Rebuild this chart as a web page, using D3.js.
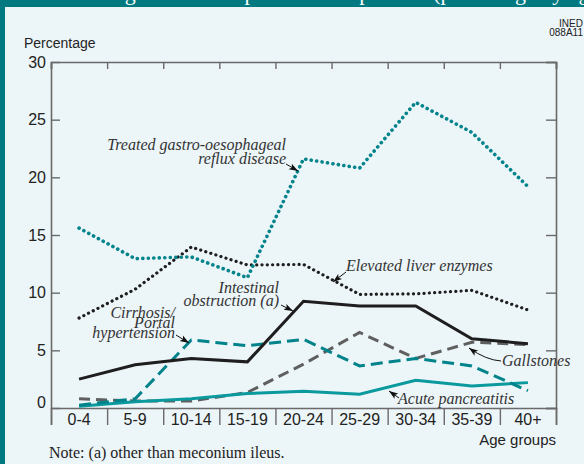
<!DOCTYPE html>
<html>
<head>
<meta charset="utf-8">
<script src="https://cdn.jsdelivr.net/npm/d3@7"></script>
<style>
html,body{margin:0;padding:0;background:#ecf5f8;}
svg{display:block;}
</style>
</head>
<body>
<script>
const categories = ["0-4","5-9","10-14","15-19","20-24","25-29","30-34","35-39","40+"];
const yTicks = [0,5,10,15,20,25,30];
const gord = [15.6,12.95,13.1,11.3,21.6,20.8,26.5,23.9,19.2];
const liver = [7.8,10.3,13.95,12.4,12.45,9.85,9.9,10.2,8.5];
const intestinal = [2.5,3.75,4.3,4.0,9.25,8.85,8.85,6.0,5.58];
const cirrhosis = [0.25,0.8,5.9,5.4,5.95,3.65,4.3,3.65,1.5];
const gallstones = [0.8,0.6,0.6,1.35,3.8,6.55,4.3,5.7,5.5];
const pancreatitis = [0.15,0.55,0.8,1.25,1.45,1.2,2.4,1.9,2.2];

(function(){
const W = 584, H = 464;
const teal = "#00838b", frame = "#007a80", axisCol = "#6a6a6a";
const svg = d3.select("body").append("svg").attr("width", W).attr("height", H);

svg.append("rect").attr("width", W).attr("height", H).attr("fill", "#ecf5f8");
svg.append("rect").attr("x",0).attr("y",0).attr("width",W).attr("height",7).attr("fill",frame);
svg.append("rect").attr("x",0).attr("y",0).attr("width",5).attr("height",H).attr("fill",frame);
svg.append("text").attr("x",385).attr("y",0).attr("text-anchor","middle")
  .attr("font-family","Liberation Serif").attr("font-size",22).attr("fill","#fff")
  .text("Figure 11. Complications of patients (percentage by age group)");

const pl = 51, pr = 556, pt = 62, pb = 408;
const x = d3.scaleBand().domain(categories).range([pl, pr]).padding(0);
const xEdge = d3.scaleLinear().domain([0, categories.length]).range([pl, pr]);
const y = d3.scaleLinear().domain([0, 30]).range([pb, pt]);

const gL = svg.append("g").attr("transform",`translate(${pl},0)`)
  .call(d3.axisLeft(y).tickValues(yTicks).tickSizeInner(-9).tickSizeOuter(0).tickPadding(5));
gL.selectAll("text").attr("font-family","Liberation Sans").attr("font-size",16).attr("fill","#222")
  .attr("dy", d => d === 0 ? "-0.05em" : "0.32em");
const gR = svg.append("g").attr("transform",`translate(${pr},0)`)
  .call(d3.axisRight(y).tickValues(yTicks).tickSize(-10).tickFormat(""));
const gT = svg.append("g").attr("transform",`translate(0,${pt})`)
  .call(d3.axisTop(xEdge).tickValues(d3.range(categories.length+1)).tickSize(-7).tickFormat(""));
const gB = svg.append("g").attr("transform",`translate(0,${pb})`)
  .call(d3.axisBottom(xEdge).tickValues(d3.range(categories.length+1)).tickSize(17).tickFormat(""));
const gBL = svg.append("g").attr("transform",`translate(0,${pb})`)
  .call(d3.axisBottom(x).tickSize(0).tickPadding(6));
gBL.select(".domain").remove();
gBL.selectAll("text").attr("font-family","Liberation Sans").attr("font-size",16).attr("fill","#222");
[gL,gR,gT,gB].forEach(g=>{
  g.selectAll(".domain").attr("stroke",axisCol).attr("stroke-width",1.6);
  g.selectAll(".tick line").attr("stroke",axisCol).attr("stroke-width",1.4);
});

const line = d3.line().x((d,i)=>x(categories[i]) + x.bandwidth()/2).y(d=>y(d));
const series = [
  {v: gallstones, color:"#5f5f5f", w:3, dash:"11 6", cap:"butt"},
  {v: pancreatitis, color:"#0a9a9e", w:3, dash:null, cap:"butt"},
  {v: cirrhosis, color:teal, w:3, dash:"12 6", cap:"butt"},
  {v: intestinal, color:"#1e1e1e", w:3, dash:null, cap:"butt"},
  {v: liver, color:"#1e1e1e", w:3.2, dash:"0.1 5.2", cap:"round"},
  {v: gord, color:teal, w:3.6, dash:"0.1 5.4", cap:"round"}
];
svg.append("g").selectAll("path").data(series).join("path")
  .attr("d", s => line(s.v)).attr("fill","none")
  .attr("stroke", s=>s.color).attr("stroke-width", s=>s.w)
  .attr("stroke-dasharray", s=>s.dash).attr("stroke-linecap", s=>s.cap)
  .attr("stroke-linejoin","miter");

svg.append("text").attr("x",24).attr("y",48).attr("font-family","Liberation Sans").attr("font-size",14).attr("fill","#222").text("Percentage");
svg.append("text").attr("x",556).attr("y",445).attr("text-anchor","end").attr("font-family","Liberation Sans").attr("font-size",15).attr("fill","#222").text("Age groups");
svg.append("text").attr("x",49).attr("y",458).attr("font-family","Liberation Serif").attr("font-size",16).attr("fill","#222").text("Note: (a) other than meconium ileus.");
const ined = svg.append("text").attr("text-anchor","end").attr("font-family","Liberation Sans Narrow, Liberation Sans").attr("font-size",10).attr("fill","#222");
ined.append("tspan").attr("x",583).attr("y",27).text("INED");
ined.append("tspan").attr("x",583).attr("y",36).text("088A11");

const defs = svg.append("defs");
defs.append("marker").attr("id","ah").attr("markerUnits","userSpaceOnUse")
  .attr("markerWidth",10).attr("markerHeight",8).attr("refX",9).attr("refY",4).attr("orient","auto")
  .append("path").attr("d","M0,0.8 L9,4 L0,7.2 L2,4 Z").attr("fill","#111");
const ann = svg.append("g").attr("font-family","Liberation Serif").attr("font-style","italic").attr("font-size",16).attr("fill","#333");
function label(lines, xx, yy, anchor, lh){
  const t = ann.append("text").attr("text-anchor",anchor);
  lines.forEach((s,i)=>t.append("tspan").attr("x",xx).attr("y",yy+i*lh).text(s));
}
label(["Treated gastro-oesophageal","reflux disease"], 286, 150, "end", 14);
label(["Elevated liver enzymes"], 346, 271, "start", 0);
label(["Intestinal","obstruction (a)"], 279, 293, "end", 13);
label(["Cirrhosis/","Portal","hypertension"], 175, 318, "end", 10);
label(["Gallstones"], 502, 366, "start", 0);
label(["Acute pancreatitis"], 398, 404, "start", 0);
const arrows = [
  "M286,164 L298,171",
  "M346,272 L333,282",
  "M281,305 L293,311",
  "M176,335 L189,343",
  "M501,361 Q486,360 469,348",
  "M399,398 L389,391"
];
svg.append("g").selectAll("path").data(arrows).join("path")
  .attr("d",d=>d).attr("fill","none").attr("stroke","#111").attr("stroke-width",1).attr("marker-end","url(#ah)");
})();
</script>
</body>
</html>
